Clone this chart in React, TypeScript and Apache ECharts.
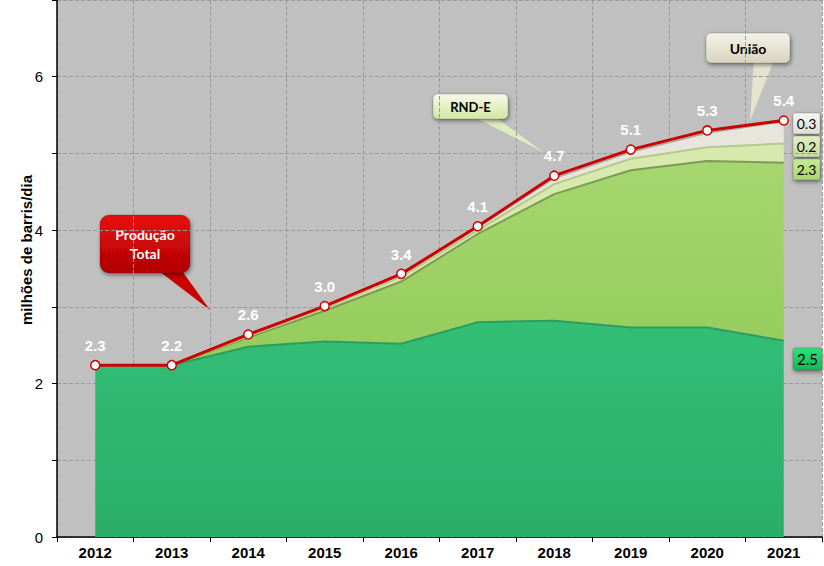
import React, { useEffect, useRef } from "react";
import * as echarts from "echarts";

const years = ["2012", "2013", "2014", "2015", "2016", "2017", "2018", "2019", "2020", "2021"];
const reservaTotal = [2.24, 2.24, 2.48, 2.55, 2.52, 2.8, 2.82, 2.73, 2.73, 2.56];
const contingente = [0, 0, 0.12, 0.4, 0.81, 1.15, 1.65, 2.05, 2.17, 2.32];
const rndE = [0, 0, 0.02, 0.03, 0.06, 0.05, 0.13, 0.15, 0.18, 0.25];
const uniao = [0, 0, 0.02, 0.03, 0.03, 0.04, 0.08, 0.09, 0.19, 0.29];
const producaoTotal = [2.24, 2.24, 2.64, 3.01, 3.43, 4.05, 4.71, 5.05, 5.3, 5.43];
const producaoLabels = ["2.3", "2.2", "2.6", "3.0", "3.4", "4.1", "4.7", "5.1", "5.3", "5.4"];
const endLabels = { uniao: "0.3", rndE: "0.2", contingente: "2.3", reserva: "2.5" };
const yTicks = [0, 2, 4, 6];

const LBL = "Liberation Sans, Arial, sans-serif";
const CAL = "Lato, Open Sans, sans-serif";

function grad(c1: string, c2: string) {
  return new echarts.graphic.LinearGradient(0, 0, 0, 1, [
    { offset: 0, color: c1 },
    { offset: 1, color: c2 },
  ]);
}

function box(x: number, y: number, w: number, h: number, r: number, c1: string, c2: string, text: string, color: string, size: number, weight: string, extra: any[] = []) {
  return {
    type: "group",
    children: [
      ...extra,
      {
        type: "rect",
        shape: { x, y, width: w, height: h, r },
        style: {
          fill: grad(c1, c2),
          stroke: "rgba(0,0,0,0.15)",
          lineWidth: 1,
          shadowBlur: 4,
          shadowOffsetX: 1,
          shadowOffsetY: 2,
          shadowColor: "rgba(0,0,0,0.45)",
        },
      },
      {
        type: "text",
        x: x + w / 2,
        y: y + h / 2,
        style: {
          text,
          fill: color,
          fontSize: size,
          fontWeight: weight,
          fontFamily: CAL,
          align: "center",
          verticalAlign: "middle",
          lineHeight: 19,
        },
      },
    ],
  };
}

export default function App() {
  const ref = useRef<HTMLDivElement>(null);
  useEffect(() => {
    if (!ref.current) return;
    const chart = echarts.init(ref.current, null, { renderer: "svg" });
    const areaSeries = (name: string, data: number[], fill: any, edge: string) => ({
      name,
      type: "line",
      stack: "total",
      data,
      showSymbol: false,
      symbol: "none",
      lineStyle: { width: 2, color: edge },
      areaStyle: { color: fill, opacity: 1 },
      z: 2,
    });
    chart.setOption({
      animation: false,
      backgroundColor: "#ffffff",
      grid: { left: 57, right: 2, top: 0, bottom: 29, show: true, backgroundColor: "#c0c0c0", borderWidth: 0 },
      xAxis: {
        type: "category",
        data: years,
        boundaryGap: true,
        axisLine: { lineStyle: { color: "#000", width: 1.5 } },
        axisTick: { show: true, length: 5, lineStyle: { color: "#000" } },
        axisLabel: { color: "#000", fontFamily: LBL, fontSize: 15, fontWeight: "bold", margin: 8 },
        splitLine: { show: true, lineStyle: { color: "#9a9a9a", type: "dashed", width: 1 } },
      },
      yAxis: {
        type: "value",
        min: 0,
        max: 7,
        interval: 1,
        axisLine: { show: true, lineStyle: { color: "#000", width: 1.5 } },
        axisTick: { show: true, length: 5, lineStyle: { color: "#000" } },
        axisLabel: {
          color: "#000",
          fontFamily: LBL,
          fontSize: 15,
          margin: 14,
          formatter: (v: number) => (yTicks.indexOf(v) >= 0 ? String(v) : ""),
        },
        splitLine: { show: true, lineStyle: { color: "#9a9a9a", type: "dashed", width: 1 } },
      },
      series: [
        areaSeries("Reserva Total (RT)", reservaTotal, grad("#33be76", "#2aae68"), "#2a9e60"),
        areaSeries("Contingente (RC)", contingente, grad("#a6d66e", "#94cc5c"), "#7d9a55"),
        areaSeries("RND-E", rndE, "#d8e9ae", "#b5c98c"),
        areaSeries("União", uniao, "#e8e6dc", "#a9a89e"),
        {
          name: "Produção Total",
          type: "line",
          data: producaoTotal,
          symbol: "circle",
          symbolSize: 9,
          lineStyle: { color: "#cc0000", width: 3 },
          itemStyle: { color: "#ffffff", borderColor: "#cc0000", borderWidth: 1.5 },
          label: {
            show: true,
            position: "top",
            distance: 7,
            color: "#ffffff",
            fontFamily: LBL,
            fontWeight: "bold",
            fontSize: 15,
            formatter: (p: any) => producaoLabels[p.dataIndex],
          },
          z: 5,
        },
      ],
      graphic: [
        {
          type: "text",
          x: 26,
          y: 250,
          rotation: Math.PI / 2,
          style: {
            text: "milhões de barris/dia",
            fill: "#000",
            fontSize: 15,
            fontWeight: "bold",
            fontFamily: LBL,
            align: "center",
            verticalAlign: "middle",
          },
        },
        box(100, 215, 90, 58, 9, "#e81010", "#b00000", "Produção\nTotal", "#ffffff", 14, "bold", [
          { type: "polygon", shape: { points: [[155, 268], [180, 268], [210, 310]] }, style: { fill: "#c80000" } },
        ]),
        box(433, 94, 75, 25, 5, "#f6fae8", "#d2e6a2", "RND-E", "#000", 13, "bold", [
          { type: "polygon", shape: { points: [[472, 116], [494, 116], [543, 152]] }, style: { fill: "#dfecbd" } },
        ]),
        box(706, 33, 84, 30, 5, "#f4f2e8", "#d8d4bf", "União", "#000", 14, "bold", [
          { type: "polygon", shape: { points: [[754, 60], [774, 60], [750, 121]] }, style: { fill: "#e6e2d0" } },
        ]),
        box(609, 254, 147, 35, 6, "#aee078", "#8cc84e", "Contingente (RC)", "#000", 14, "bold"),
        box(597, 462, 152, 35, 6, "#3cd67e", "#20b05e", "Reserva Total  (RT)", "#000", 14, "bold"),
        box(793, 113, 27, 21, 2, "#f6f6f0", "#dedcd2", endLabels.uniao, "#000", 14, "normal"),
        box(793, 136, 27, 21, 2, "#e2eec4", "#c6dc9a", endLabels.rndE, "#000", 14, "normal"),
        box(793, 159, 27, 21, 2, "#c6ea92", "#a8d66e", endLabels.contingente, "#000", 14, "normal"),
        box(793, 348, 29, 22, 2, "#2ee07a", "#14b85a", endLabels.reserva, "#000", 15, "normal"),
      ],
    });
    return () => chart.dispose();
  }, []);
  return (
    <div
      ref={ref}
      style={{ position: "absolute", left: 0, top: 0, width: 824, height: 566, background: "#fff" }}
    />
  );
}
